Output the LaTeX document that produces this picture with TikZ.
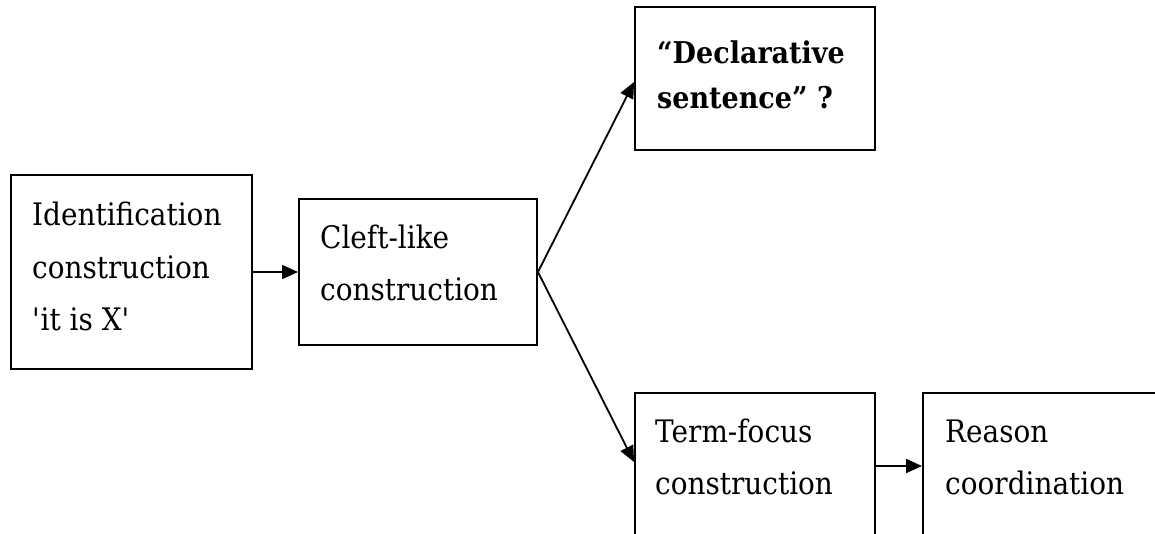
\documentclass[tikz,border=0pt]{standalone}
\usepackage{fontspec}
\setmainfont{DejaVu Serif}[FakeStretch=0.9]
\usetikzlibrary{arrows.meta}
\tikzset{
  box/.style={draw, line width=1.9pt, rectangle, inner sep=0pt},
  lbl/.style={anchor=base west, inner sep=0pt, font=\fontsize{31}{36}\selectfont},
  bl/.style={lbl, font=\fontsize{30}{36}\selectfont\bfseries},
  arr/.style={line width=1.8pt, -{Triangle[length=16pt,width=14pt]}}
}
\begin{document}
\begin{tikzpicture}[x=1pt,y=-1pt]
\useasboundingbox (0,0) rectangle (1155,533);
\clip (0,0) rectangle (1155,533);
% boxes
\node[box, minimum width=241pt, minimum height=194pt] (A) at (131.5,272) {};
\node[box, minimum width=238pt, minimum height=146pt] (B) at (418,272) {};
\node[box, minimum width=240pt, minimum height=143pt] (C) at (755,78.5) {};
\node[box, minimum width=240pt, minimum height=152pt] (D) at (755,469) {};
\node[box, minimum width=260pt, minimum height=152pt] (E) at (1053,469) {};
% texts
\node[lbl] (a1) at (32,225) {Identification};
\node[lbl] (a2) at (32,278) {construction};
\node[lbl] (a3) at (32,330) {\textquotesingle it is X\textquotesingle};
\node[lbl] (b1) at (320,248) {Cleft-like};
\node[lbl] (b2) at (320,300) {construction};
\node[bl] (c1) at (657,63) {“Declarative};
\node[bl] (c2) at (657,108) {sentence” ?};
\node[lbl] (d1) at (655,442) {Term-focus};
\node[lbl] (d2) at (655,494) {construction};
\node[lbl] (e1) at (945,442) {Reason};
\node[lbl] (e2) at (945,494) {coordination};
% arrows
\draw[arr] (A.east) -- (A.east -| B.west);
\draw[arr] (B.east) -- ([yshift=-3.5pt]C.west);
\draw[arr] (B.east) -- ([yshift=7pt]D.west);
\draw[arr] ([yshift=3pt]D.east) -- ([yshift=3pt]D.east -| E.west);
\end{tikzpicture}
\end{document}
